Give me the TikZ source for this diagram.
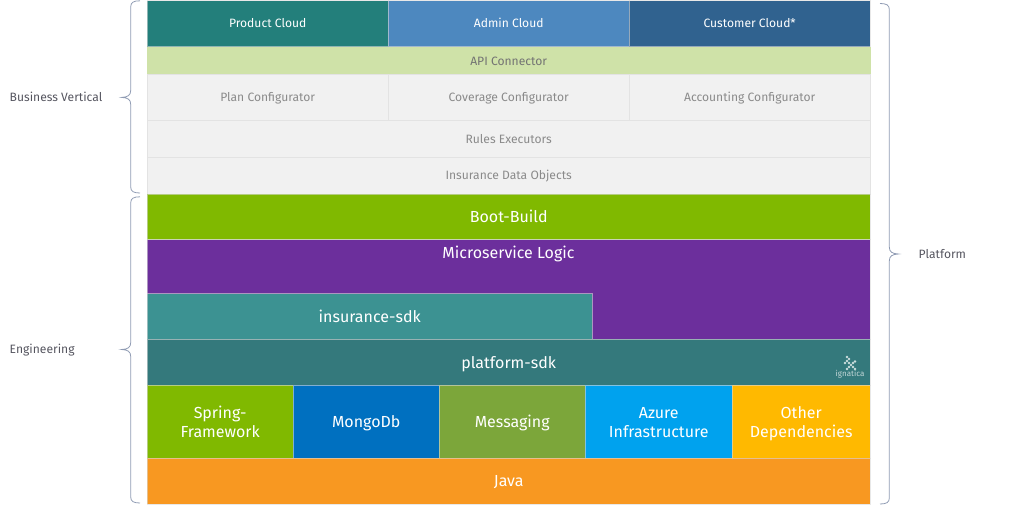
\documentclass[tikz,border=0pt]{standalone}
\usepackage{fontspec}
\setmainfont{Fira Sans}

\definecolor{productcol}{HTML}{237F7B}
\definecolor{admincol}{HTML}{4D88BF}
\definecolor{customercol}{HTML}{30628F}
\definecolor{apicol}{HTML}{CFE2A8}
\definecolor{greycol}{HTML}{F1F1F1}
\definecolor{greyline}{HTML}{E3E3E3}
\definecolor{greytext}{HTML}{8A8A8A}
\definecolor{bootcol}{HTML}{80B900}
\definecolor{microcol}{HTML}{6C2F9C}
\definecolor{insurcol}{HTML}{3C9292}
\definecolor{platcol}{HTML}{34797C}
\definecolor{mongocol}{HTML}{0070C0}
\definecolor{messagecol}{HTML}{7CA63A}
\definecolor{azurecol}{HTML}{00A2EE}
\definecolor{othercol}{HTML}{FFB900}
\definecolor{javacol}{HTML}{F89821}
\definecolor{bracecol}{HTML}{8F9BB3}
\definecolor{sidetext}{HTML}{55555F}

\newcommand{\layerstrut}{\rule[-0.22em]{0pt}{1.12em}}
\newcommand{\biglayerstrut}{\rule[-0.25em]{0pt}{1.25em}}
\newcommand{\twolinestrut}{\rule{0pt}{1.05em}}

\tikzset{
  layer/.style={rectangle, draw=white!70!gray, draw opacity=0.6, line width=0.4pt, anchor=north west, inner sep=0pt, align=center},
  darklayer/.style={layer, text=white, font=\fontsize{12.1}{15}\selectfont,
    execute at begin node=\layerstrut, execute at end node=\layerstrut},
  biglayer/.style={layer, text=white, font=\fontsize{16}{19}\selectfont,
    execute at begin node=\biglayerstrut, execute at end node=\biglayerstrut},
  greylayer/.style={darklayer, fill=greycol, draw=greyline, draw opacity=1, text=greytext},
  sidelabel/.style={anchor=west, inner sep=0pt, text=sidetext, font=\fontsize{12.1}{15}\selectfont,
    execute at begin node=\layerstrut},
  sidebrace/.style={draw=bracecol, line width=0.8pt},
  logodot/.style={rectangle, fill=white!75!platcol, rotate=45, minimum size=1.9pt, inner sep=0pt}
}

\newcommand{\sidebrace}[6]{% tip name, end y, end y, tip y, line x, direction
  \coordinate (#1top) at (#5+#6*9.3,#2);
  \coordinate (#1bot) at (#5+#6*9.3,#3);
  \coordinate (#1tip) at (#5-#6*9,#4);
  \draw[sidebrace] (#1top) .. controls (#5+#6*3,#2) and (#5,#2+1.5) .. (#5,#2+6)
    -- (#5,#4-7) .. controls (#5,#4-2) and (#5-#6*3,#4-0.3) .. (#1tip)
    .. controls (#5-#6*3,#4+0.3) and (#5,#4+2) .. (#5,#4+7)
    -- (#5,#3-6) .. controls (#5,#3-1.5) and (#5+#6*3,#3) .. (#1bot);
}

\begin{document}
\begin{tikzpicture}[x=1pt, y=-1pt]
\useasboundingbox (0,0) rectangle (1024,505);

% top row
\node[darklayer, fill=productcol, minimum width=241pt, minimum height=46pt] (product) at (147,0.5) {Product Cloud};
\node[darklayer, fill=admincol, minimum width=241pt, minimum height=46pt] (admin) at (388,0.5) {Admin Cloud};
\node[darklayer, fill=customercol, minimum width=241pt, minimum height=46pt] (customer) at (629,0.5) {Customer Cloud*};
\node[greylayer, fill=apicol, draw=apicol, text=black!55, minimum width=723pt, minimum height=27pt] (api) at (147,47.5) {API Connector};

% configurators
\node[greylayer, minimum width=241pt, minimum height=46pt] (plan) at (147,74) {Plan Configurator};
\node[greylayer, minimum width=241pt, minimum height=46pt] (coverage) at (388,74) {Coverage Configurator};
\node[greylayer, minimum width=241pt, minimum height=46pt] (accounting) at (629,74) {Accounting Configurator};
\node[greylayer, minimum width=723pt, minimum height=37pt] (rules) at (147,120.5) {Rules Executors};
\node[greylayer, minimum width=723pt, minimum height=37pt] (objects) at (147,157) {Insurance Data Objects};

% engineering
\node[biglayer, fill=bootcol, minimum width=723pt, minimum height=45.3pt] (boot) at (147,194) {Boot-Build};
\node[biglayer, fill=microcol, minimum width=723pt, minimum height=99.7pt] (micro) at (147,239.3) {};
\node[text=white, font=\fontsize{16}{19}\selectfont, inner sep=0pt] (microtext) at (508.5,253.5) {Microservice Logic};
\node[biglayer, fill=insurcol, minimum width=445pt, minimum height=45.7pt] (insurance) at (147,293.3) {insurance-sdk};
\node[biglayer, fill=platcol, minimum width=723pt, minimum height=46pt] (platform) at (147,339) {platform-sdk};

% libraries
\node[biglayer, fill=bootcol, minimum width=146pt, minimum height=72.5pt] (spring) at (147,385) {\twolinestrut Spring-\\Framework};
\node[biglayer, fill=mongocol, minimum width=146pt, minimum height=72.5pt] (mongo) at (293,385) {MongoDb};
\node[biglayer, fill=messagecol, minimum width=146pt, minimum height=72.5pt] (messaging) at (439,385) {Messaging};
\node[biglayer, fill=azurecol, minimum width=147pt, minimum height=72.5pt] (azure) at (585,385) {\twolinestrut Azure\\Infrastructure};
\node[biglayer, fill=othercol, minimum width=138pt, minimum height=72.5pt] (other) at (732,385) {\twolinestrut Other\\Dependencies};
\node[biglayer, fill=javacol, minimum width=723pt, minimum height=46.5pt] (java) at (147,457.5) {Java};

% logo
\foreach \dotx/\doty in {847/357, 849/359, 847/361, 845/363, 849/363, 851/365, 853/363, 855/361.5, 853/367, 855/369, 849/367, 847/369}
  \node[logodot] at (\dotx,\doty) {};
\node[text=white!70!platcol, font=\fontsize{8}{9}\selectfont, inner sep=0pt] (logotext) at (850,374.5) {ignatica};

% braces
\sidebrace{bv}{0.8}{193}{97.4}{130.7}{1}
\sidebrace{eng}{196.8}{503}{349.5}{130.7}{1}
\sidebrace{pf}{3.5}{504}{254}{889.3}{-1}

\node[sidelabel] (business) at (9.5,97.5) {Business Vertical};
\node[sidelabel] (engineering) at (9.5,349.5) {Engineering};
\node[sidelabel] (platformlabel) at (918.5,254) {Platform};
\end{tikzpicture}
\end{document}
